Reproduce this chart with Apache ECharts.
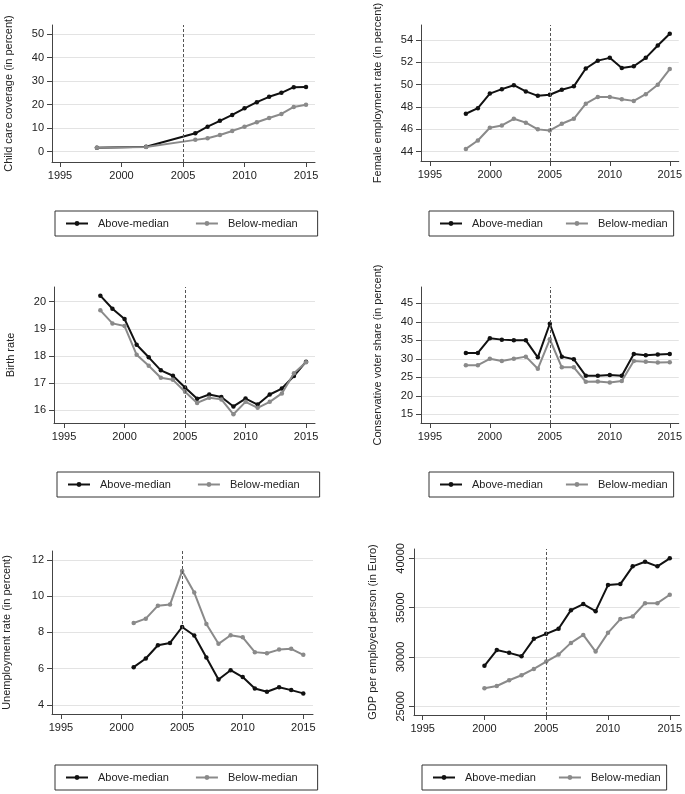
<!DOCTYPE html>
<html>
<head>
<meta charset="utf-8">
<script src="https://cdn.jsdelivr.net/npm/echarts@6/dist/echarts.min.js"></script>
<style>
html,body{margin:0;padding:0;background:#fff;}
#chart{width:685px;height:794px;}
</style>
</head>
<body>
<div id="chart"></div>
<script>
// ---------------- data ----------------
const xTicks = [1995, 2000, 2005, 2010, 2015];
const reformYear = 2005;
const seriesNames = ['Above-median', 'Below-median'];

const childYears = [1998, 2002, 2006, 2007, 2008, 2009, 2010, 2011, 2012, 2013, 2014, 2015];
const childAbove = [1.7, 2.1, 7.8, 10.6, 13.1, 15.6, 18.4, 21.0, 23.3, 25.0, 27.4, 27.5];
const childBelow = [1.7, 2.0, 5.0, 5.7, 7.1, 8.8, 10.6, 12.5, 14.3, 16.0, 19.0, 19.9];
const childTicks = [0, 10, 20, 30, 40, 50];

const femYears = [1998, 1999, 2000, 2001, 2002, 2003, 2004, 2005, 2006, 2007, 2008, 2009, 2010, 2011, 2012, 2013, 2014, 2015];
const femAbove = [47.4, 47.9, 49.2, 49.6, 49.95, 49.4, 49.0, 49.1, 49.55, 49.85, 51.45, 52.15, 52.4, 51.5, 51.65, 52.4, 53.5, 54.55];
const femBelow = [44.25, 45.0, 46.15, 46.35, 46.95, 46.6, 46.0, 45.9, 46.5, 46.95, 48.3, 48.9, 48.9, 48.7, 48.55, 49.15, 50.0, 51.4];
const femTicks = [44, 46, 48, 50, 52, 54];

const birthYears = [1998, 1999, 2000, 2001, 2002, 2003, 2004, 2005, 2006, 2007, 2008, 2009, 2010, 2011, 2012, 2013, 2014, 2015];
const birthAbove = [20.22, 19.74, 19.36, 18.41, 17.95, 17.47, 17.27, 16.84, 16.42, 16.58, 16.49, 16.14, 16.43, 16.21, 16.58, 16.80, 17.26, 17.79];
const birthBelow = [19.68, 19.2, 19.1, 18.04, 17.64, 17.2, 17.12, 16.68, 16.27, 16.46, 16.4, 15.85, 16.31, 16.09, 16.31, 16.62, 17.36, 17.77];
const birthTicks = [16, 17, 18, 19, 20];

const consYears = [1998, 1999, 2000, 2001, 2002, 2003, 2004, 2005, 2006, 2007, 2008, 2009, 2010, 2011, 2012, 2013, 2014, 2015];
const consAbove = [31.6, 31.6, 35.6, 35.2, 35.0, 35.0, 30.4, 39.5, 30.6, 29.9, 25.4, 25.4, 25.6, 25.4, 31.3, 31.0, 31.2, 31.3];
const consBelow = [28.3, 28.3, 30.0, 29.4, 30.0, 30.6, 27.3, 35.3, 27.7, 27.7, 23.8, 23.9, 23.6, 24.0, 29.4, 29.2, 29.0, 29.1];
const consTicks = [15, 20, 25, 30, 35, 40, 45];

const unempYears = [2001, 2002, 2003, 2004, 2005, 2006, 2007, 2008, 2009, 2010, 2011, 2012, 2013, 2014, 2015];
const unempAbove = [6.08, 6.56, 7.29, 7.42, 8.30, 7.83, 6.61, 5.40, 5.91, 5.53, 4.90, 4.72, 4.97, 4.81, 4.63];
const unempBelow = [8.52, 8.76, 9.48, 9.54, 11.39, 10.2, 8.47, 7.37, 7.84, 7.73, 6.91, 6.85, 7.05, 7.09, 6.76];
const unempTicks = [4, 6, 8, 10, 12];

const gdpYears = [2000, 2001, 2002, 2003, 2004, 2005, 2006, 2007, 2008, 2009, 2010, 2011, 2012, 2013, 2014, 2015];
const gdpAbove = [29100, 30700, 30420, 30080, 31840, 32350, 32860, 34750, 35360, 34650, 37290, 37390, 39190, 39660, 39190, 40000];
const gdpBelow = [26830, 27060, 27640, 28150, 28790, 29540, 30250, 31430, 32240, 30550, 32450, 33840, 34110, 35460, 35460, 36310];
const gdpTicks = [25000, 30000, 35000, 40000];

// ---------------- layout ----------------
const FONT = '"Liberation Sans", Arial, Helvetica, sans-serif';
const LEFT_LEGEND = { padding: [7, 20, 7, 10], itemGap: 26 };
const RIGHT_LEGEND = { padding: [7, 6, 7, 10], itemGap: 22 };
const panels = [
  { title: 'Child care coverage (in percent)', years: childYears, above: childAbove, below: childBelow, ticks: childTicks,
    grid: { left: 52, top: 25, width: 263, height: 137 }, xr: [1994.35, 2015.73], yr: [-4.4, 53.8], gap: 38,
    lg: { left: 55, top: 211 }, ls: LEFT_LEGEND },
  { title: 'Female employment rate (in percent)', years: femYears, above: femAbove, below: femBelow, ticks: femTicks,
    grid: { left: 421, top: 25, width: 260, height: 136 }, xr: [1994.26, 2015.75], yr: [43.17, 55.34], gap: 38,
    lg: { left: 429, top: 211 }, ls: RIGHT_LEGEND },
  { title: 'Birth rate', years: birthYears, above: birthAbove, below: birthBelow, ticks: birthTicks,
    grid: { left: 54, top: 287, width: 261, height: 136 }, xr: [1994.17, 2015.74], yr: [15.53, 20.54], gap: 38,
    lg: { left: 57, top: 472 }, ls: LEFT_LEGEND },
  { title: 'Conservative voter share (in percent)', years: consYears, above: consAbove, below: consBelow, ticks: consTicks,
    grid: { left: 421, top: 287, width: 260, height: 136 }, xr: [1994.26, 2015.75], yr: [12.64, 49.44], gap: 38,
    lg: { left: 429, top: 472 }, ls: RIGHT_LEGEND },
  { title: 'Unemployment rate (in percent)', years: unempYears, above: unempAbove, below: unempBelow, ticks: unempTicks,
    grid: { left: 52, top: 551, width: 261, height: 163 }, xr: [1994.26, 2015.8], yr: [3.49, 12.5], gap: 40,
    lg: { left: 55, top: 765 }, ls: LEFT_LEGEND },
  { title: 'GDP per employed person (in Euro)', years: gdpYears, above: gdpAbove, below: gdpBelow, ticks: gdpTicks,
    grid: { left: 414, top: 549, width: 266, height: 166 }, xr: [1994.3, 2015.8], yr: [24120, 40948], gap: 36,
    lg: { left: 422, top: 765 }, ls: RIGHT_LEGEND, rot: 90 }
];

const AXIS_COLOR = '#444';
const TEXT_COLOR = '#222';
const BLACK = '#111';
const GRAY = '#8a8a8a';
const grids = [], xAxes = [], yAxes = [], series = [], legends = [];

panels.forEach((p, i) => {
  grids.push(Object.assign({ containLabel: false }, p.grid));
  xAxes.push({
    type: 'value', gridIndex: i, min: p.xr[0], max: p.xr[1],
    axisLine: { show: true, onZero: false, lineStyle: { color: AXIS_COLOR, width: 1 } },
    axisTick: { show: true, length: 5, customValues: xTicks, lineStyle: { color: AXIS_COLOR } },
    axisLabel: { customValues: xTicks, margin: 8, fontSize: 11, color: TEXT_COLOR, fontFamily: FONT, formatter: v => String(v) },
    splitLine: { show: false }
  });
  yAxes.push({
    type: 'value', gridIndex: i, min: p.yr[0], max: p.yr[1],
    name: p.title, nameLocation: 'middle', nameGap: p.gap,
    nameTextStyle: { fontSize: 11, color: TEXT_COLOR, fontFamily: FONT },
    axisLine: { show: true, onZero: false, lineStyle: { color: AXIS_COLOR, width: 1 } },
    axisTick: { show: true, length: 5, customValues: p.ticks, lineStyle: { color: AXIS_COLOR } },
    axisLabel: { customValues: p.ticks, margin: 8, rotate: p.rot || 0, fontSize: 11, color: TEXT_COLOR, fontFamily: FONT, formatter: v => String(v) },
    splitLine: { show: true, lineStyle: { color: '#e3e3e3', width: 1 } }
  });
  const mk = (vals) => p.years.map((y, k) => [y, vals[k]]);
  series.push({
    name: seriesNames[0], type: 'line', xAxisIndex: i, yAxisIndex: i, data: mk(p.above),
    symbol: 'circle', symbolSize: 4.5, color: BLACK,
    lineStyle: { width: 2, color: BLACK }, itemStyle: { color: BLACK }, z: 3,
    markLine: { silent: true, symbol: 'none', label: { show: false },
      lineStyle: { color: '#555', type: [3, 2], width: 1 }, data: [{ xAxis: reformYear }] }
  });
  series.push({
    name: seriesNames[1], type: 'line', xAxisIndex: i, yAxisIndex: i, data: mk(p.below),
    symbol: 'circle', symbolSize: 4.5, color: GRAY,
    lineStyle: { width: 2, color: GRAY }, itemStyle: { color: GRAY }, z: 4
  });
  legends.push({
    data: seriesNames, left: p.lg.left, top: p.lg.top, orient: 'horizontal',
    borderColor: '#333', borderWidth: 1, padding: p.ls.padding,
    itemWidth: 22, itemHeight: 6, itemGap: p.ls.itemGap, selectedMode: false,
    textStyle: { fontSize: 11, color: TEXT_COLOR, fontFamily: FONT, padding: [0, 0, 0, 5] }
  });
});

const chart = echarts.init(document.getElementById('chart'), null, { renderer: 'canvas', width: 685, height: 794 });
chart.setOption({
  animation: false,
  backgroundColor: '#fff',
  grid: grids, xAxis: xAxes, yAxis: yAxes, series: series, legend: legends
});
</script>
</body>
</html>
